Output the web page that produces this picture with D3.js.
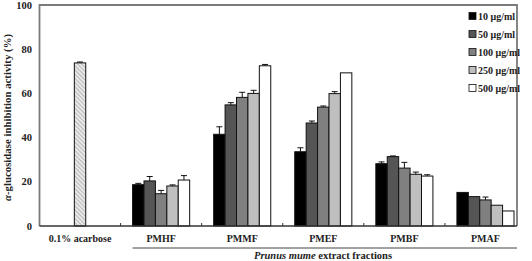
<!DOCTYPE html>
<html>
<head>
<meta charset="utf-8">
<script src="https://cdn.jsdelivr.net/npm/d3@7"></script>
<style>
  body { margin: 0; background: #fff; }
  svg { display: block; font-family: "Liberation Serif", "Times New Roman", serif; font-weight: bold; }
</style>
</head>
<body>
<svg id="chart" width="532" height="261"></svg>
<script>
// ---- data ----
const groups = ['0.1% acarbose', 'PMHF', 'PMMF', 'PMEF', 'PMBF', 'PMAF'];
const fractions = ['PMHF', 'PMMF', 'PMEF', 'PMBF', 'PMAF'];
const concentrations = ['10 μg/ml', '50 μg/ml', '100 μg/ml', '250 μg/ml', '500 μg/ml'];
const concColors = ['#000000', '#555555', '#808080', '#bfbfbf', '#ffffff'];

const acarboseValue = 73.8;
const acarboseError = 0.4;

// rows = fraction, cols = concentration
const means = [
  [18.7, 20.4, 14.6, 18.1, 20.8],
  [41.5, 54.8, 58.2, 60.0, 72.5],
  [33.6, 46.6, 53.8, 59.9, 69.3],
  [28.2, 31.4, 26.2, 23.4, 22.6],
  [15.2, 13.3, 11.8, 9.4, 6.8]
];
const errors = [
  [0.6, 2.0, 1.5, 0.5, 2.0],
  [3.4, 1.0, 2.3, 1.4, 0.6],
  [1.8, 0.9, 0.5, 0.9, 0.0],
  [0.8, 0.3, 2.6, 1.0, 0.6],
  [0.0, 0.0, 1.3, 0.0, 0.0]
];
const yTicks = [0, 20, 40, 60, 80, 100];

// ---- layout ----
const svg = d3.select('#chart');
const mLeft = 39.5, mTop = 5, mBottom = 226, frameRight = 517;

const x = d3.scaleBand().domain(groups).range([mLeft, 526]).padding(0);
const inner = d3.scaleBand().domain(concentrations).range([12, x.bandwidth() - 12]).padding(0);
const y = d3.scaleLinear().domain([0, 100]).range([mBottom, mTop]);
const color = d3.scaleOrdinal().domain(concentrations).range(concColors);

// hatch pattern for acarbose
const defs = svg.append('defs');
const pat = defs.append('pattern')
  .attr('id', 'hatch').attr('patternUnits', 'userSpaceOnUse')
  .attr('width', 3).attr('height', 3)
  .attr('patternTransform', 'rotate(-45)');
pat.append('rect').attr('width', 3).attr('height', 3).attr('fill', '#e8e8e8');
pat.append('line').attr('x1', 0).attr('y1', 0).attr('x2', 0).attr('y2', 3)
  .attr('stroke', '#909090').attr('stroke-width', 1.1);

// frame (top/left/right)
svg.append('path')
  .attr('d', `M${mLeft},${mBottom}V${mTop}H${frameRight}V${mBottom}`)
  .attr('fill', 'none').attr('stroke', '#7a7a7a').attr('stroke-width', 1.8);

// y tick labels
svg.append('g').selectAll('text').data(yTicks).join('text')
  .attr('x', 32).attr('y', d => y(d)).attr('dy', '0.35em')
  .attr('text-anchor', 'end').attr('font-size', 10.5).attr('fill', '#222')
  .text(d => d);

// y title
svg.append('text')
  .attr('transform', `translate(11,${(mTop + mBottom) / 2 + 2}) rotate(-90)`)
  .attr('text-anchor', 'middle').attr('font-size', 10.8).attr('fill', '#222')
  .call(t => {
    t.append('tspan').attr('font-style', 'italic').text('α');
    t.append('tspan').text('-glucosidase  inhibition  activity (%)');
  });

// acarbose bar
const acX = x('0.1% acarbose') + x.bandwidth() / 2 - inner.bandwidth() / 2;
svg.append('rect')
  .attr('x', acX).attr('y', y(acarboseValue))
  .attr('width', inner.bandwidth()).attr('height', y(0) - y(acarboseValue))
  .attr('fill', 'url(#hatch)').attr('stroke', '#111').attr('stroke-width', 1);
svg.append('path')
  .attr('d', `M${acX + inner.bandwidth() / 2},${y(acarboseValue)}V${y(acarboseValue + acarboseError)}m-3,0h6`)
  .attr('stroke', '#111').attr('stroke-width', 1).attr('fill', 'none');

// fraction bars
const cells = [];
fractions.forEach((f, i) => concentrations.forEach((c, j) => {
  cells.push({ f, c, v: means[i][j], e: errors[i][j] });
}));

const bars = svg.append('g').selectAll('g').data(cells).join('g')
  .attr('transform', d => `translate(${x(d.f) + inner(d.c)},0)`);

bars.append('rect')
  .attr('y', d => y(d.v)).attr('width', inner.bandwidth())
  .attr('height', d => y(0) - y(d.v))
  .attr('fill', d => color(d.c)).attr('stroke', '#111').attr('stroke-width', 1);

bars.filter(d => d.e > 0).append('path')
  .attr('d', d => `M${inner.bandwidth() / 2},${y(d.v)}V${y(d.v + d.e)}m-3,0h6`)
  .attr('stroke', '#111').attr('stroke-width', 1).attr('fill', 'none');

// x axis line + inner ticks at group boundaries
svg.append('line')
  .attr('x1', mLeft).attr('x2', frameRight).attr('y1', mBottom).attr('y2', mBottom)
  .attr('stroke', '#333').attr('stroke-width', 1.5);
svg.append('g').selectAll('line').data(groups.slice(1)).join('line')
  .attr('x1', d => x(d)).attr('x2', d => x(d))
  .attr('y1', mBottom).attr('y2', mBottom - 3)
  .attr('stroke', '#333').attr('stroke-width', 1);

// category labels
svg.append('g').selectAll('text').data(groups).join('text')
  .attr('x', d => x(d) + x.bandwidth() / 2).attr('y', 242)
  .attr('text-anchor', 'middle').attr('font-size', 10).attr('fill', '#222')
  .text(d => d);

// bracket line under fractions + group title
svg.append('line')
  .attr('x1', x('PMHF') + 12).attr('x2', frameRight).attr('y1', 248).attr('y2', 248)
  .attr('stroke', '#444').attr('stroke-width', 1);
svg.append('text')
  .attr('x', 323).attr('y', 259).attr('text-anchor', 'middle')
  .attr('font-size', 10.5).attr('fill', '#222')
  .call(t => {
    t.append('tspan').attr('font-style', 'italic').text('Prunus mume');
    t.append('tspan').text(' extract fractions');
  });

// legend
const legend = svg.append('g').attr('transform', 'translate(469,16)');
const items = legend.selectAll('g').data(concentrations).join('g')
  .attr('transform', (d, i) => `translate(0,${i * 18})`);
items.append('rect')
  .attr('x', 0).attr('y', -3.5).attr('width', 7).attr('height', 7)
  .attr('fill', d => color(d)).attr('stroke', '#111').attr('stroke-width', 0.8);
items.append('text')
  .attr('x', 9).attr('y', 0).attr('dy', '0.35em')
  .attr('font-size', 10).attr('fill', '#222')
  .text(d => d);
</script>
</body>
</html>
